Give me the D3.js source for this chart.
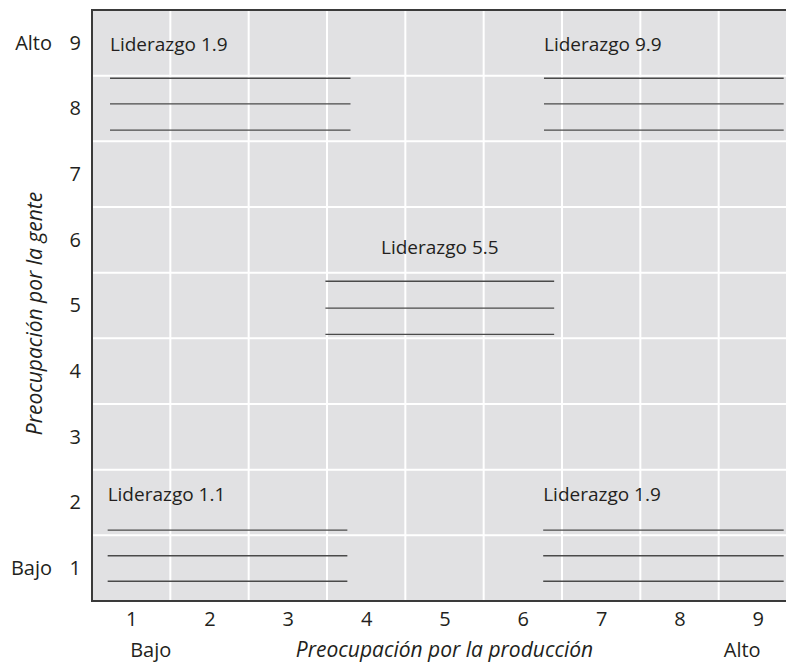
<!DOCTYPE html>
<html>
<head>
<meta charset="utf-8">
<script src="https://cdn.jsdelivr.net/npm/d3@7"></script>
<style>
  body { margin: 0; background: #fff; }
  svg { display: block; font-family: "Open Sans", sans-serif; }
</style>
</head>
<body>
<svg width="786" height="667"></svg>
<script>
// data
var xTicks = [1, 2, 3, 4, 5, 6, 7, 8, 9];
var yTicks = [1, 2, 3, 4, 5, 6, 7, 8, 9];
var boxLabels = ['Liderazgo 1.9', 'Liderazgo 9.9', 'Liderazgo 5.5', 'Liderazgo 1.1', 'Liderazgo 1.9'];
// box extent in grid units: start x, end x, label y, blank line y's
var boxX0 = [0.73, 6.27, 3.48, 0.70, 6.26];
var boxX1 = [3.80, 9.33, 6.40, 3.76, 9.33];
var boxLabelY = [8.97, 8.97, 5.89, 2.13, 2.13];
var boxLineY = [[8.46, 8.07, 7.67], [8.46, 8.07, 7.67], [5.37, 4.96, 4.56], [1.58, 1.19, 0.80], [1.58, 1.19, 0.80]];
var xTitle = 'Preocupación por la producción';
var yTitle = 'Preocupación por la gente';
var lowLabel = 'Bajo', highLabel = 'Alto';

var svg, margin, innerWidth, innerHeight;

document.addEventListener('DOMContentLoaded', function () {
  svg = d3.select('svg');
  margin = {top: 10, left: 92};
  innerWidth = 705;   // runs a bit past the right edge of the picture
  innerHeight = 591;
  drawGrid();
});

function drawGrid() {
  var xScale = d3.scaleLinear().domain([0.5, 9.5]).range([0, innerWidth]);
  var yScale = d3.scaleLinear().domain([0.5, 9.5]).range([innerHeight, 0]);
  var ink = '#231f20';

  var g = svg.append('g').attr('transform', 'translate(' + margin.left + ',' + margin.top + ')');

  g.append('rect')
    .attr('width', innerWidth)
    .attr('height', innerHeight)
    .attr('fill', '#e1e1e3');

  // white grid between the cells
  var cuts = d3.range(1.5, 9.5, 1);
  g.selectAll('.vgrid').data(cuts).enter().append('line')
    .attr('x1', d => xScale(d)).attr('x2', d => xScale(d))
    .attr('y1', 0).attr('y2', innerHeight)
    .attr('stroke', '#fff').attr('stroke-width', 2);
  g.selectAll('.hgrid').data(cuts).enter().append('line')
    .attr('y1', d => yScale(d)).attr('y2', d => yScale(d))
    .attr('x1', 0).attr('x2', innerWidth)
    .attr('stroke', '#fff').attr('stroke-width', 2);

  // frame
  g.append('path')
    .attr('d', 'M' + innerWidth + ',0H0V' + innerHeight + 'H' + innerWidth)
    .attr('fill', 'none').attr('stroke', '#3a3a3a').attr('stroke-width', 2);

  // boxes with blank lines
  boxLabels.forEach(function (lbl, i) {
    var tx = boxX0[i];
    if (i == 2) tx = (boxX0[i] + boxX1[i]) / 2;
    g.append('text')
      .attr('x', xScale(tx))
      .attr('y', yScale(boxLabelY[i]))
      .attr('dy', '0.35em')
      .attr('text-anchor', i == 2 ? 'middle' : 'start')
      .attr('font-size', 19)
      .attr('fill', ink)
      .text(lbl);
    g.selectAll('.blank' + i).data(boxLineY[i]).enter().append('line')
      .attr('x1', xScale(boxX0[i])).attr('x2', xScale(boxX1[i]))
      .attr('y1', d => yScale(d)).attr('y2', d => yScale(d))
      .attr('stroke', '#4a4a4a').attr('stroke-width', 1.4);
  });

  // axes
  var xAxis = d3.axisBottom(xScale).tickValues(xTicks).tickSize(0).tickPadding(11);
  var yAxis = d3.axisLeft(yScale).tickValues(yTicks).tickSize(0).tickPadding(11);
  var xa = g.append('g').attr('transform', 'translate(0,' + innerHeight + ')').call(xAxis);
  var ya = g.append('g').call(yAxis);
  [xa, ya].forEach(function (a) {
    a.select('.domain').remove();
    a.selectAll('text').attr('font-size', 20).attr('font-family', '"Open Sans", sans-serif').attr('fill', ink);
  });

  // low / high words
  var bottomY = innerHeight + 56;
  g.append('text').attr('x', -40).attr('y', yScale(9)).attr('dy', '0.35em')
    .attr('text-anchor', 'end').attr('font-size', 20).attr('fill', ink).text(highLabel);
  g.append('text').attr('x', -40).attr('y', yScale(1)).attr('dy', '0.35em')
    .attr('text-anchor', 'end').attr('font-size', 20).attr('fill', ink).text(lowLabel);
  g.append('text').attr('x', xScale(1.25)).attr('y', bottomY)
    .attr('text-anchor', 'middle').attr('font-size', 20).attr('fill', ink).text(lowLabel);
  g.append('text').attr('x', xScale(8.8)).attr('y', bottomY)
    .attr('text-anchor', 'middle').attr('font-size', 20).attr('fill', ink).text(highLabel);

  // titles
  g.append('text').attr('x', xScale(5)).attr('y', bottomY)
    .attr('text-anchor', 'middle').attr('font-size', 21).attr('font-style', 'italic')
    .attr('fill', ink).text(xTitle);
  g.append('text').attr('transform', 'rotate(-90)')
    .attr('x', -innerHeight / 2 - 8).attr('y', -50)
    .attr('text-anchor', 'middle').attr('font-size', 21).attr('font-style', 'italic')
    .attr('fill', ink).text(yTitle);
}
</script>
</body>
</html>
